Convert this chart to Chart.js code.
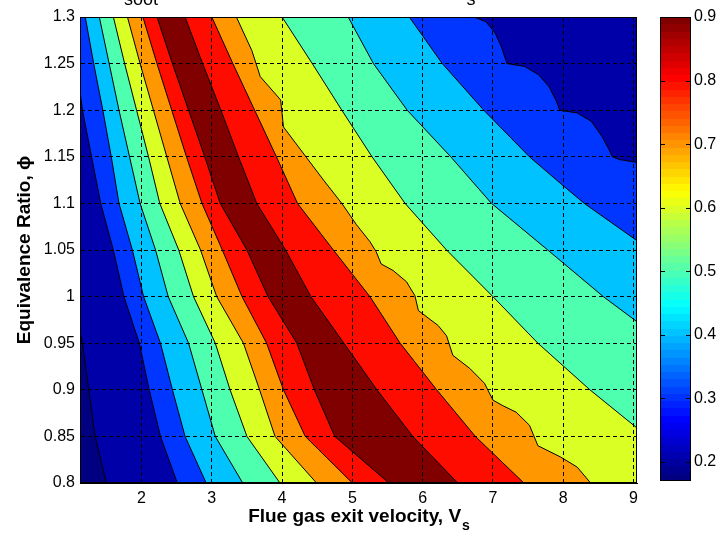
<!DOCTYPE html>
<html>
<head>
<meta charset="utf-8">
<script src="https://cdn.jsdelivr.net/npm/chart.js@4.4.1/dist/chart.umd.min.js"></script>
<style>
  html, body { margin: 0; padding: 0; background: #fff; }
  #wrap { position: relative; width: 719px; height: 534px; overflow: hidden; }
  #wrap canvas { position: absolute; left: 0; top: 0; }
</style>
</head>
<body>
<div id="wrap">
  <canvas id="contour" width="719" height="534"></canvas>
  <canvas id="colorbar" width="719" height="534"></canvas>
</div>
<script>
// axis limits and ticks
const xRange = [1.125, 9.05]
const yRange = [0.8, 1.3]
const cLim = [0.17, 0.9]
const xTicks = [2, 3, 4, 5, 6, 7, 8, 9]
const yTicks = [0.8, 0.85, 0.9, 0.95, 1, 1.05, 1.1, 1.15, 1.2, 1.25, 1.3]
const cTicks = [0.2, 0.3, 0.4, 0.5, 0.6, 0.7, 0.8, 0.9]

// equivalence ratio rows where the regular contour lines were read
const phiRows = [1.3, 1.25, 1.2, 1.15, 1.1, 1.05, 1, 0.95, 0.9, 0.85, 0.8]

// contour lines, rising side (left of the ridge), x at each phi row
const c04L = [1.20, 1.32, 1.45, 1.57, 1.68, 1.87, 2.03, 2.27, 2.44, 2.62, 2.92]
const c05L = [1.40, 1.54, 1.68, 1.83, 1.98, 2.20, 2.38, 2.67, 2.86, 3.05, 3.44]
const c06L = [1.60, 1.76, 1.93, 2.10, 2.26, 2.53, 2.74, 3.05, 3.26, 3.50, 3.97]
const c07L = [1.80, 1.98, 2.17, 2.36, 2.55, 2.84, 3.07, 3.45, 3.68, 3.90, 4.49]
const c08L = [2.02, 2.22, 2.43, 2.64, 2.86, 3.15, 3.43, 3.78, 4.02, 4.33, 5.00]
const c09L = [2.22, 2.44, 2.67, 2.90, 3.12, 3.50, 3.80, 4.21, 4.46, 4.75, 5.52]
// falling side (right of the ridge)
const c09R = [2.62, 2.87, 3.13, 3.38, 3.64, 4.05, 4.41, 4.88, 5.35, 5.86, 6.50]
const c08R = [3.00, 3.30, 3.61, 3.92, 4.22, 4.73, 5.25, 5.68, 6.20, 6.75, 7.44]

// contour lines that leave through the side edges: [Vs, phi]
const c02L = [[1.125, 0.962], [1.16, 0.95], [1.25, 0.9], [1.34, 0.85], [1.50, 0.8]]
const c03L = [[1.125, 1.22], [1.16, 1.2], [1.29, 1.15], [1.42, 1.1], [1.60, 1.05],
  [1.75, 1.0], [1.97, 0.95], [2.11, 0.9], [2.27, 0.85], [2.51, 0.8]]
const c07R = [[3.35, 1.3], [3.57, 1.264], [3.69, 1.236], [3.98, 1.211], [4.02, 1.182],
  [4.31, 1.153], [4.59, 1.125], [4.85, 1.1], [5.06, 1.077], [5.25, 1.059], [5.34, 1.048],
  [5.41, 1.035], [5.58, 1.028], [5.77, 1.016], [5.89, 1.001], [5.94, 0.985], [6.22, 0.969],
  [6.34, 0.958], [6.43, 0.937], [6.67, 0.923], [6.88, 0.907], [7.0, 0.889], [7.14, 0.883],
  [7.33, 0.876], [7.52, 0.862], [7.64, 0.84], [7.96, 0.828], [8.20, 0.817], [8.39, 0.8]]
const c06R = [[4.0, 1.3], [4.43, 1.25], [4.85, 1.2], [5.28, 1.15], [5.75, 1.1],
  [6.34, 1.05], [7.0, 1.0], [7.64, 0.95], [8.38, 0.9], [9.05, 0.859]]
const c05R = [[4.94, 1.3], [5.30, 1.25], [5.78, 1.2], [6.40, 1.15], [6.98, 1.1],
  [7.78, 1.05], [8.57, 1.0], [9.05, 0.973]]
const c04R = [[5.81, 1.3], [6.28, 1.25], [6.87, 1.2], [7.52, 1.15], [8.0, 1.119],
  [8.3, 1.1], [9.05, 1.06]]
const c03R = [[6.73, 1.3], [6.9, 1.295], [7.03, 1.283], [7.12, 1.268], [7.2, 1.25],
  [7.45, 1.247], [7.65, 1.238], [7.8, 1.225], [7.9, 1.21], [7.95, 1.2], [8.2, 1.197],
  [8.4, 1.188], [8.55, 1.172], [8.65, 1.158], [8.7, 1.15], [8.8, 1.147], [9.05, 1.144]]

// level painted on the right hand side of each line
const leftLevels = [0.2, 0.3, 0.4, 0.5, 0.6, 0.7, 0.8, 0.9]
const rightLevels = [0.8, 0.7, 0.6, 0.5, 0.4, 0.3, 0.2]

const font = "'Liberation Sans', Arial, Helvetica, sans-serif"

const onRows = xs => xs.map((x, i) => [x, phiRows[i]])
const leftLines = [c02L, c03L, onRows(c04L), onRows(c05L), onRows(c06L), onRows(c07L), onRows(c08L), onRows(c09L)]
const rightLines = [onRows(c09R), onRows(c08R), c07R, c06R, c05R, c04R, c03R]

function jetT(t) {
  const f = k => Math.round(255 * Math.max(0, Math.min(1, 1.5 - Math.abs(4 * t - k))))
  return 'rgb(' + f(3) + ',' + f(2) + ',' + f(1) + ')'
}
function jet(v) {
  return jetT((v - cLim[0]) / (cLim[1] - cLim[0]))
}

function toPoints(arr) {
  return arr.map(([x, y]) => ({x, y}))
}

// polygon of everything to the right of a contour line, closed along the plot edges
function regionRight(line) {
  const poly = line.slice()
  const first = line[0]
  const last = line[line.length - 1]
  if (last[1] <= yRange[0]) poly.push([xRange[1], yRange[0]])
  poly.push([xRange[1], yRange[1]])
  if (first[0] <= xRange[0]) poly.push([xRange[0], yRange[1]])
  return poly
}

const frame = [[xRange[0], yRange[0]], [xRange[1], yRange[0]], [xRange[1], yRange[1]], [xRange[0], yRange[1]]]
const bands = [{poly: frame, level: cLim[0]}]
  .concat(leftLines.map((l, i) => ({poly: regionRight(l), level: leftLevels[i]})))
  .concat(rightLines.map((l, i) => ({poly: regionRight(l), level: rightLevels[i]})))

const fillSets = bands.map((b, i) => ({
  data: toPoints(b.poly),
  backgroundColor: jet(b.level),
  borderColor: 'rgba(0,0,0,0)',
  borderWidth: 0,
  pointRadius: 0,
  fill: 'shape',
  order: 100 - i
}))
const lineSets = leftLines.concat(rightLines).map(l => ({
  data: toPoints(l),
  borderColor: '#000',
  borderWidth: 1,
  pointRadius: 0,
  fill: false,
  order: 0
}))

const axisText = {
  id: 'axisText',
  afterDraw(chart) {
    const {ctx, chartArea} = chart
    ctx.save()
    ctx.strokeStyle = '#000'
    ctx.lineWidth = 1
    ctx.strokeRect(chartArea.left + 0.5, chartArea.top + 0.5, chartArea.width - 1, chartArea.height - 1)
    ctx.fillStyle = '#000'

    // x title with subscript
    const cx = (chartArea.left + chartArea.right) / 2
    const main = 'Flue gas exit velocity, V'
    ctx.font = 'bold 19px ' + font
    const w1 = ctx.measureText(main).width
    ctx.font = 'bold 14px ' + font
    const w2 = ctx.measureText('s').width
    const x0 = cx - (w1 + w2) / 2
    ctx.textAlign = 'left'
    ctx.textBaseline = 'alphabetic'
    ctx.font = 'bold 19px ' + font
    ctx.fillText(main, x0, 522)
    ctx.font = 'bold 14px ' + font
    ctx.fillText('s', x0 + w1 + 1, 530)

    // y title
    ctx.save()
    ctx.translate(25, (chartArea.top + chartArea.bottom) / 2)
    ctx.rotate(-Math.PI / 2)
    ctx.textAlign = 'center'
    ctx.textBaseline = 'middle'
    ctx.font = 'bold 19px ' + font
    ctx.fillText('Equivalence Ratio, \u03D5', 0, 0)
    ctx.restore()

    // lower edge of the clipped title
    ctx.font = '18px ' + font
    ctx.textAlign = 'center'
    ctx.fillText('soot', 141, 5)
    ctx.fillText('s', 471, 5)
    ctx.restore()
  }
}

new Chart(document.getElementById('contour'), {
  type: 'line',
  data: { datasets: lineSets.concat(fillSets) },
  options: {
    responsive: false,
    animation: false,
    events: [],
    layout: { padding: { left: 0, right: 82, top: 17, bottom: 0 } },
    plugins: { legend: { display: false }, tooltip: { enabled: false } },
    scales: {
      x: {
        type: 'linear',
        min: xRange[0],
        max: xRange[1],
        afterBuildTicks: axis => { axis.ticks = xTicks.map(value => ({value})) },
        afterFit: axis => { axis.height = 51 },
        grid: { color: '#000', lineWidth: 1, drawTicks: false, z: 1 },
        border: { color: '#000', dash: [4, 3], z: 1 },
        ticks: { color: '#000', font: { family: font, size: 16 }, padding: 6, maxRotation: 0, autoSkip: false,
          callback: v => String(v) }
      },
      y: {
        type: 'linear',
        min: yRange[0],
        max: yRange[1],
        afterBuildTicks: axis => { axis.ticks = yTicks.map(value => ({value})) },
        afterFit: axis => { axis.width = 80 },
        grid: { color: '#000', lineWidth: 1, drawTicks: false, z: 1 },
        border: { color: '#000', dash: [4, 3], z: 1 },
        ticks: { color: '#000', font: { family: font, size: 16 }, padding: 5, autoSkip: false,
          callback: v => String(v) }
      }
    }
  },
  plugins: [axisText]
})

// colour bar
function barGradient(chart) {
  const area = chart.chartArea
  if (!area) return jet(cLim[0])
  const g = chart.ctx.createLinearGradient(0, area.bottom, 0, area.top)
  for (let i = 0; i < 64; i++) {
    const c = jetT(i / 63)
    g.addColorStop(i / 64, c)
    g.addColorStop((i + 1) / 64, c)
  }
  return g
}

const barTicks = {
  id: 'barTicks',
  afterDatasetsDraw(chart) {
    const {ctx, chartArea} = chart
    const scale = chart.scales.y
    ctx.save()
    ctx.strokeStyle = '#000'
    ctx.lineWidth = 1
    cTicks.forEach(v => {
      const y = Math.round(scale.getPixelForValue(v)) + 0.5
      ctx.beginPath()
      ctx.moveTo(chartArea.left, y)
      ctx.lineTo(chartArea.left + 5, y)
      ctx.moveTo(chartArea.right - 5, y)
      ctx.lineTo(chartArea.right, y)
      ctx.stroke()
    })
    ctx.strokeRect(chartArea.left + 0.5, chartArea.top + 0.5, chartArea.width - 1, chartArea.height - 1)
    ctx.restore()
  }
}

new Chart(document.getElementById('colorbar'), {
  type: 'bar',
  data: {
    labels: ['Ysoot'],
    datasets: [{
      data: [[cLim[0], cLim[1]]],
      backgroundColor: ctx => barGradient(ctx.chart),
      borderWidth: 0,
      barPercentage: 1,
      categoryPercentage: 1
    }]
  },
  options: {
    responsive: false,
    animation: false,
    events: [],
    layout: { padding: { left: 660, right: 0, top: 17, bottom: 53 } },
    plugins: { legend: { display: false }, tooltip: { enabled: false } },
    scales: {
      x: { display: false },
      y: {
        position: 'right',
        min: cLim[0],
        max: cLim[1],
        afterBuildTicks: axis => { axis.ticks = cTicks.map(value => ({value})) },
        afterFit: axis => { axis.width = 28 },
        grid: { display: false, drawTicks: false, tickLength: 0 },
        border: { display: false },
        ticks: { color: '#000', font: { family: font, size: 16 }, padding: 3, callback: v => String(v) }
      }
    }
  },
  plugins: [barTicks]
})
</script>
</body>
</html>
